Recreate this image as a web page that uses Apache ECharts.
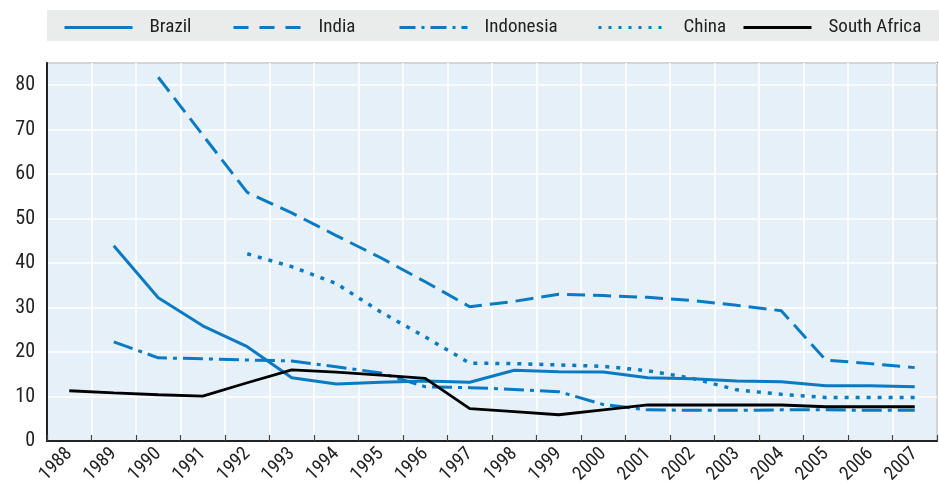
<!DOCTYPE html>
<html><head><meta charset="utf-8">
<script src="https://cdn.jsdelivr.net/npm/echarts@6/dist/echarts.min.js"></script>
<style>html,body{margin:0;padding:0;background:#fff}#c{width:939px;height:487px}</style>
</head><body><div id="c"></div>
<script>
const years = ['1988','1989','1990','1991','1992','1993','1994','1995','1996','1997','1998','1999','2000','2001','2002','2003','2004','2005','2006','2007'];
const brazil = [null,43.9,32.2,25.9,21.2,14.2,12.8,13.2,13.5,13.2,15.9,15.6,15.5,14.2,14.0,13.5,13.3,12.4,12.4,12.2];
const india = [null,null,81.8,68.8,55.9,51.3,46.2,41.2,35.8,30.2,31.4,33.0,32.7,32.3,31.6,30.5,29.3,18.2,17.4,16.5];
const indonesia = [null,22.3,18.7,18.5,18.2,18.0,16.7,15.3,12.2,12.0,11.6,11.1,8.2,7.0,6.9,6.9,7.0,7.0,6.9,6.9];
const china = [null,null,null,null,42.1,39.2,35.4,29.0,23.4,17.5,17.4,17.1,16.8,15.8,14.1,11.5,10.5,9.8,9.8,9.8];
const southAfrica = [11.3,10.8,10.4,10.1,13.1,16.0,15.5,14.8,14.1,7.3,6.6,5.9,7.0,8.1,8.1,8.1,8.1,7.7,7.7,7.7];
const yTicks = [0,10,20,30,40,50,60,70,80];

const BLUE = '#0a7bc2';
const FONT = '"Liberation Sans Narrow","Roboto Condensed","Liberation Sans",Arial,sans-serif';
const seriesDefs = [
  {name:'Brazil', data:brazil, color:BLUE, type:'solid', ltype:'solid', width:3},
  {name:'India', data:india, color:BLUE, type:[18,8], ltype:[15,11], width:3},
  {name:'Indonesia', data:indonesia, color:BLUE, type:[20,6,4,6], ltype:[16,6,3,6], width:3},
  {name:'China', data:china, color:BLUE, type:[4,7], ltype:[3,7], width:3.5},
  {name:'South Africa', data:southAfrica, color:'#000', type:'solid', ltype:'solid', width:2.8}
];
const legendLefts = [63, 232, 398, 597, 742];

const chart = echarts.init(document.getElementById('c'), null, {renderer:'canvas'});
chart.setOption({
  animation:false,
  textStyle:{fontFamily:FONT},
  graphic:[{type:'rect', shape:{x:47,y:10,width:892,height:31}, style:{fill:'#eaebeb'}, silent:true, z:-1}],
  legend: seriesDefs.map((s,i)=>({
    show:true,
    data:[s.name], left:legendLefts[i], top:18, itemWidth:68, itemHeight:16, itemGap:0, padding:0,
    itemStyle:{opacity:0},
    lineStyle:{width:3, type:s.ltype, color:s.color},
    textStyle:{fontFamily:FONT, fontSize:19, color:'#222', padding:[0,0,0,12]},
    selectedMode:false
  })),
  grid:{left:47, right:2, top:63, bottom:46, show:true, backgroundColor:'#e5f0f8', borderColor:'#222', borderWidth:1.5, containLabel:false},
  xAxis:{type:'category', data:years, boundaryGap:true,
    axisLine:{lineStyle:{color:'#222', width:2}},
    axisTick:{show:true, inside:true, length:6, lineStyle:{color:'#444', width:1.2}},
    axisLabel:{rotate:45, fontSize:19, color:'#222', fontFamily:FONT, margin:10},
    splitLine:{show:true, lineStyle:{color:'#ffffff', width:1.5}}
  },
  yAxis:{type:'value', min:0, max:85, interval:10,
    axisLine:{show:true, lineStyle:{color:'#222', width:2}},
    axisTick:{show:false},
    axisLabel:{fontSize:20, color:'#222', fontFamily:FONT, margin:12,
      formatter:v=> yTicks.indexOf(v)>=0 ? String(v) : ''},
    splitLine:{show:true, lineStyle:{color:'#ffffff', width:1.5}}
  },
  series: seriesDefs.map(s=>({
    name:s.name, type:'line', data:s.data, showSymbol:false, symbol:'none', connectNulls:false,
    lineStyle:{color:s.color, width:s.width, type:s.type}, itemStyle:{color:s.color}
  }))
});
</script></body></html>
